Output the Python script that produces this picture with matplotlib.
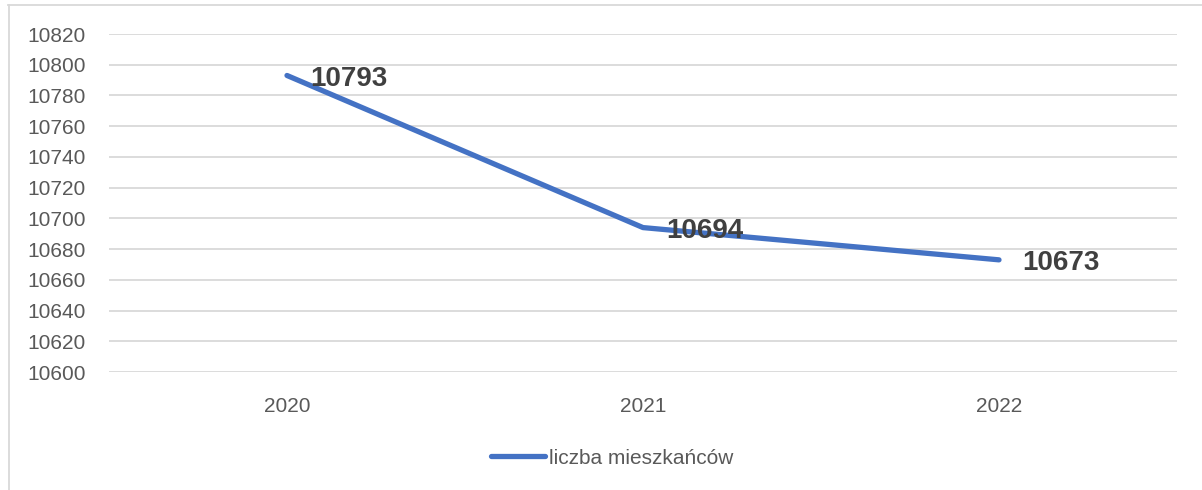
import matplotlib
matplotlib.use("Agg")
import matplotlib.pyplot as plt
from matplotlib.lines import Line2D

W, H = 1202, 490

years = ["2020", "2021", "2022"]
residents = [10793, 10694, 10673]
series_name = "liczba mieszkańców"
y_ticks = list(range(10600, 10821, 20))

plt.rcParams['font.family'] = ['Liberation Sans', 'DejaVu Sans']

fig = plt.figure(figsize=(W / 100, H / 100), dpi=100)
ax = fig.add_axes([109 / W, 1 - 372 / H, (1177 - 109) / W, (372 - 34) / H])

x = list(range(len(years)))
line, = ax.plot(x, residents, color="#4472C4", lw=3.8, solid_capstyle="round",
                solid_joinstyle="round", label=series_name, zorder=3)

for xi, v in zip(x, residents):
    ax.annotate(str(v), (xi, v), xytext=(17, -2.5), textcoords="offset points",
                ha="left", va="center", fontsize=20, fontweight="bold",
                color="#404040", zorder=4)

ax.set_xlim(-0.5, len(years) - 0.5)
ax.set_ylim(10600, 10820)
ax.set_yticks(y_ticks)
ax.set_xticks(x)
ax.set_xticklabels(years)
ax.grid(axis="y", color="#D9D9D9", lw=1.3)
ax.set_axisbelow(True)
for s in ax.spines.values():
    s.set_visible(False)
ax.tick_params(axis="both", length=0, labelsize=15, labelcolor="#595959")
ax.tick_params(axis="y", pad=17)
ax.tick_params(axis="x", pad=18)

fig.legend(handles=[line], loc="center", bbox_to_anchor=(612 / W, 1 - 458 / H),
           frameon=False, fontsize=15, handlelength=2.6, handletextpad=0.2,
           labelcolor="#595959")

# chart area border (top and left visible)
fig.add_artist(Line2D([8 / W, 1], [1 - 5.5 / H, 1 - 5.5 / H], color="#D9D9D9",
                      lw=1.3, transform=fig.transFigure))
fig.add_artist(Line2D([8.5 / W, 8.5 / W], [0, 1 - 5.5 / H], color="#D9D9D9",
                      lw=1.3, transform=fig.transFigure))

fig.savefig("out.png", dpi=100)
